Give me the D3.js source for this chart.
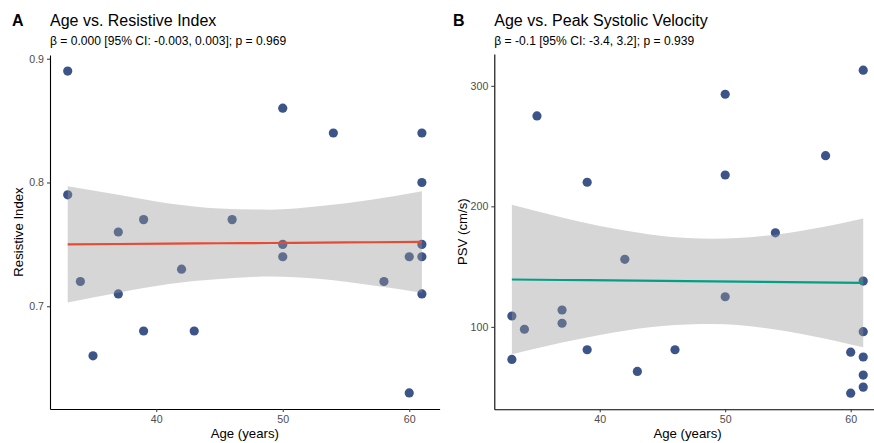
<!DOCTYPE html>
<html>
<head>
<meta charset="utf-8">
<script src="https://cdn.jsdelivr.net/npm/d3@7"></script>
<style>
  body { margin: 0; background: #fff; }
  svg { display: block; font-family: "Liberation Sans", Arial, sans-serif; }
</style>
</head>
<body>
<svg width="874" height="443"></svg>
<script>
// panel A: age vs resistive index
const riAge = [33, 33, 34, 35, 37, 37, 39, 39, 42, 43, 46, 50, 50, 50, 54, 58, 60, 60, 61, 61, 61, 61, 61];
const riValue = [0.89, 0.79, 0.72, 0.66, 0.76, 0.71, 0.77, 0.68, 0.73, 0.68, 0.77, 0.86, 0.75, 0.74, 0.84, 0.72, 0.74, 0.63, 0.84, 0.80, 0.75, 0.74, 0.71];

// panel B: age vs peak systolic velocity
const psvAge = [33, 33, 34, 35, 37, 37, 39, 39, 42, 43, 46, 50, 50, 50, 54, 58, 60, 60, 61, 61, 61, 61, 61, 61];
const psvValue = [109, 73, 98, 275, 114, 103, 220, 81, 156, 63, 81, 293, 226, 125, 178, 242, 79, 45, 313, 138, 96, 75, 60, 50];

// fitted line + 95% band
const fitAge = [33, 37, 41, 45, 49, 53, 57, 61];
const riFit = [0.7500, 0.7503, 0.7506, 0.7509, 0.7511, 0.7514, 0.7517, 0.7520];
const riLower = [0.703, 0.711, 0.718, 0.722, 0.724, 0.722, 0.717, 0.711];
const riUpper = [0.797, 0.790, 0.783, 0.779, 0.778, 0.781, 0.786, 0.793];
const psvFit = [139.3, 138.9, 138.5, 138.1, 137.7, 137.3, 136.9, 136.5];
const psvLower = [77.3, 87.0, 95.2, 100.8, 102.3, 99.2, 92.3, 83.0];
const psvUpper = [201.3, 190.8, 181.8, 175.4, 173.1, 175.4, 181.5, 190.0];

const ageTicks = [40, 50, 60];
const riTicks = [0.7, 0.8, 0.9];
const psvTicks = [100, 200, 300];

const svg = d3.select("svg");

function expand(vals) {
  let [lo, hi] = d3.extent(vals);
  let pad = (hi - lo) * 0.05;
  return [lo - pad, hi + pad];
}

function panel(cfg) {
  let x = d3.scaleLinear().domain(expand(cfg.xs)).range([cfg.left, cfg.right]);
  let y = d3.scaleLinear().domain(expand(cfg.ys)).range([cfg.bottom, cfg.top]);
  let g = svg.append("g");

  // points first, band and line sit on top like geom_smooth
  g.append("g")
    .selectAll("circle")
    .data(cfg.xs.map((d, i) => [d, cfg.ys[i]]))
    .join("circle")
    .attr("cx", (d) => x(d[0]))
    .attr("cy", (d) => y(d[1]))
    .attr("r", 4.6)
    .style("fill", "#3C5488");

  let band = d3.area()
    .x((d, i) => x(fitAge[i]))
    .y0((d, i) => y(cfg.lower[i]))
    .y1((d, i) => y(cfg.upper[i]))
    .curve(d3.curveMonotoneX);

  g.append("path")
    .attr("d", band(fitAge))
    .style("fill", "#999")
    .style("fill-opacity", 0.4);

  let line = d3.line()
    .x((d, i) => x(fitAge[i]))
    .y((d) => y(d))
    .curve(d3.curveMonotoneX);

  g.append("path")
    .attr("d", line(cfg.fit))
    .style("fill", "none")
    .style("stroke", cfg.lineColor)
    .style("stroke-width", 2.2);

  let xAxis = g.append("g")
    .attr("transform", `translate(0,${cfg.bottom})`)
    .call(d3.axisBottom(x).tickValues(ageTicks).tickSize(3).tickSizeOuter(0).tickPadding(3));
  let yAxis = g.append("g")
    .attr("transform", `translate(${cfg.left},0)`)
    .call(d3.axisLeft(y).tickValues(cfg.ticks).tickFormat(cfg.fmt).tickSize(3).tickSizeOuter(0).tickPadding(3));

  [xAxis, yAxis].forEach((a) => {
    a.select(".domain").style("stroke", "#000").style("stroke-width", 1.1);
    a.selectAll(".tick line").style("stroke", "#333");
    a.selectAll("text").style("fill", "#4d4d4d").style("font-size", "10.6px").style("font-family", "Liberation Sans, Arial, sans-serif");
  });

  g.append("text")
    .attr("x", (cfg.left + cfg.right) / 2)
    .attr("y", 438)
    .attr("text-anchor", "middle")
    .style("font-size", "13.2px")
    .text("Age (years)");

  g.append("text")
    .attr("transform", `translate(${cfg.left - 27},${(cfg.top + cfg.bottom) / 2}) rotate(-90)`)
    .attr("text-anchor", "middle")
    .style("font-size", "13.2px")
    .text(cfg.yTitle);

  g.append("text")
    .attr("x", cfg.tagX)
    .attr("y", 25.5)
    .style("font-size", "16px")
    .style("font-weight", "bold")
    .text(cfg.tag);

  g.append("text")
    .attr("x", cfg.left)
    .attr("y", 25.5)
    .style("font-size", "16px")
    .text(cfg.title);

  g.append("text")
    .attr("x", cfg.left)
    .attr("y", 44.5)
    .style("font-size", "12.1px")
    .text(cfg.subtitle);
}

panel({
  xs: riAge, ys: riValue,
  fit: riFit, lower: riLower, upper: riUpper,
  left: 50, right: 439.6, top: 55, bottom: 409,
  ticks: riTicks, fmt: d3.format(".1f"),
  lineColor: "#E64B35",
  yTitle: "Resistive Index",
  tag: "A", tagX: 12,
  title: "Age vs. Resistive Index",
  subtitle: "β = 0.000 [95% CI: -0.003, 0.003]; p = 0.969"
});

panel({
  xs: psvAge, ys: psvValue,
  fit: psvFit, lower: psvLower, upper: psvUpper,
  left: 494.3, right: 880.8, top: 54, bottom: 409.3,
  ticks: psvTicks, fmt: d3.format("d"),
  lineColor: "#00A087",
  yTitle: "PSV (cm/s)",
  tag: "B", tagX: 453,
  title: "Age vs. Peak Systolic Velocity",
  subtitle: "β = -0.1 [95% CI: -3.4, 3.2]; p = 0.939"
});
</script>
</body>
</html>
